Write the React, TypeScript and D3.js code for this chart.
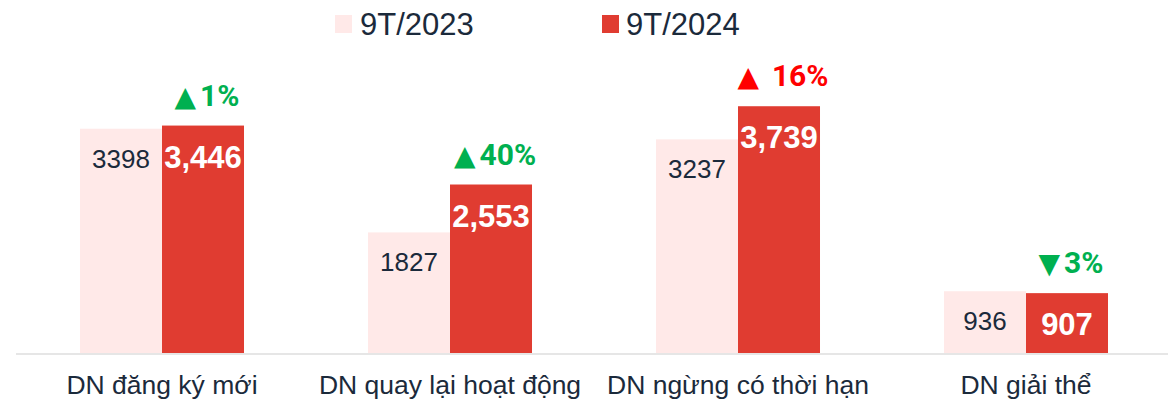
import React from 'react';
import * as d3 from 'd3';

const WIDTH = 1174;
const HEIGHT = 400;

const categories = ['DN đăng ký mới', 'DN quay lại hoạt động', 'DN ngừng có thời hạn', 'DN giải thể'];
const seriesNames = ['9T/2023', '9T/2024'];
const values2023 = [3398, 1827, 3237, 936];
const values2024 = [3446, 2553, 3739, 907];
const changeArrows = ['▲', '▲', '▲ ', '▼'];
const changeLabels = ['1%', '40%', '16%', '3%'];
const changeIsBad = [false, false, true, false];

const PINK = '#ffe9e8';
const RED = '#e03c31';
const DARK = '#1b2a3b';
const GREEN = '#00b050';
const ALERT = '#ff0000';
const SANS = '"Liberation Sans", Arial, sans-serif';
const ROBOTO = 'Roboto, "Liberation Sans", sans-serif';

const App = () => {
    const baseline = 353;
    const x0 = d3.scaleBand<string>().domain(categories).range([18, 1170]);
    const x1 = d3.scaleBand<string>()
        .domain(seriesNames)
        .range([0, x0.bandwidth()])
        .paddingInner(0)
        .paddingOuter(0.756);
    const y = d3.scaleLinear().domain([0, 4000]).range([baseline, 89]);

    const fmt = d3.format(',');

    return (
        <svg width={WIDTH} height={HEIGHT}
             style={{position: 'absolute', left: 0, top: 0, display: 'block'}}>
            <rect width={WIDTH} height={HEIGHT} fill="#fff"/>

            {/* legend */}
            <g>
                <rect x={335} y={15} width={17} height={18} fill={PINK}/>
                <text x={360} y={35} fontFamily={SANS} fontSize={31} fill={DARK}>{seriesNames[0]}</text>
                <rect x={602} y={15} width={17} height={18} fill={RED}/>
                <text x={626} y={35} fontFamily={SANS} fontSize={31} fill={DARK}>{seriesNames[1]}</text>
            </g>

            {categories.map((c, i) => {
                const gx = x0(c) ?? 0;
                const xa = gx + (x1(seriesNames[0]) ?? 0);
                const xb = gx + (x1(seriesNames[1]) ?? 0);
                const w = x1.bandwidth();
                const ya = y(values2023[i]);
                const yb = y(values2024[i]);
                return (
                    <g key={c}>
                        <rect x={xa} y={ya} width={w} height={baseline - ya} fill={PINK}/>
                        <rect x={xb} y={yb} width={w} height={baseline - yb} fill={RED}/>
                        <text x={xa + w / 2} y={ya + 39} textAnchor="middle" fontFamily={SANS}
                              fontSize={26} fill={DARK}>{values2023[i]}</text>
                        <text x={xb + w / 2} y={yb + 42} textAnchor="middle" fontFamily={SANS}
                              fontWeight="bold" fontSize={31} fill="#fff">{fmt(values2024[i])}</text>
                        <text x={xb + w / 2 + 4} y={yb - 20} textAnchor="middle" fontFamily={ROBOTO}
                              fontWeight="bold" fontSize={30}
                              fill={changeIsBad[i] ? ALERT : GREEN}>
                            <tspan fontFamily='"DejaVu Sans", sans-serif' fontWeight="normal"
                                   fontSize={28} style={{whiteSpace: 'pre'}}>{changeArrows[i]}</tspan>
                            <tspan dx={4}>{changeLabels[i]}</tspan>
                        </text>
                        <text x={gx + x0.bandwidth() / 2} y={394} textAnchor="middle" fontFamily={SANS}
                              fontSize={26.5} fill={DARK}>{c}</text>
                    </g>
                );
            })}

            <line x1={16} x2={1168} y1={baseline + 1} y2={baseline + 1} stroke="#e6e6e6" strokeWidth={2}/>
        </svg>
    );
};

export default App;
